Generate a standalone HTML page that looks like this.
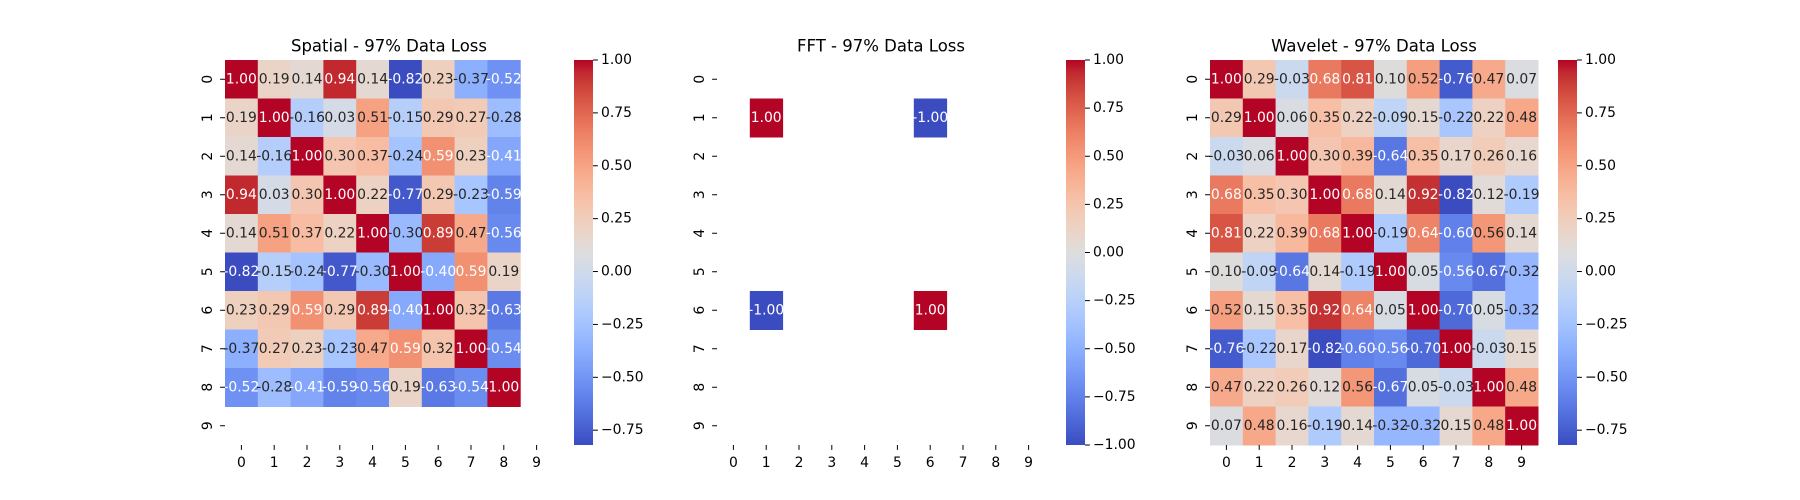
<!DOCTYPE html>
<html><head><meta charset="utf-8">
<style>
html,body{margin:0;padding:0;background:#fff;}
svg{display:block;font-family:"DejaVu Sans","Liberation Sans",sans-serif;}
</style></head>
<body>
<svg id="fig" width="1800" height="500" viewBox="0 0 1800 500" xmlns="http://www.w3.org/2000/svg"></svg>
<script>
const titles = ["Spatial - 97% Data Loss", "FFT - 97% Data Loss", "Wavelet - 97% Data Loss"];
const tickLabels = ["0","1","2","3","4","5","6","7","8","9"];
const N = null;
const spatialValues = [
 [1.00,0.19,0.14,0.94,0.14,-0.82,0.23,-0.37,-0.52,N],
 [0.19,1.00,-0.16,0.03,0.51,-0.15,0.29,0.27,-0.28,N],
 [0.14,-0.16,1.00,0.30,0.37,-0.24,0.59,0.23,-0.41,N],
 [0.94,0.03,0.30,1.00,0.22,-0.77,0.29,-0.23,-0.59,N],
 [0.14,0.51,0.37,0.22,1.00,-0.30,0.89,0.47,-0.56,N],
 [-0.82,-0.15,-0.24,-0.77,-0.30,1.00,-0.40,0.59,0.19,N],
 [0.23,0.29,0.59,0.29,0.89,-0.40,1.00,0.32,-0.63,N],
 [-0.37,0.27,0.23,-0.23,0.47,0.59,0.32,1.00,-0.54,N],
 [-0.52,-0.28,-0.41,-0.59,-0.56,0.19,-0.63,-0.54,1.00,N],
 [N,N,N,N,N,N,N,N,N,N]
];
const fftValues = [
 [N,N,N,N,N,N,N,N,N,N],
 [N,1.00,N,N,N,N,-1.00,N,N,N],
 [N,N,N,N,N,N,N,N,N,N],
 [N,N,N,N,N,N,N,N,N,N],
 [N,N,N,N,N,N,N,N,N,N],
 [N,N,N,N,N,N,N,N,N,N],
 [N,-1.00,N,N,N,N,1.00,N,N,N],
 [N,N,N,N,N,N,N,N,N,N],
 [N,N,N,N,N,N,N,N,N,N],
 [N,N,N,N,N,N,N,N,N,N]
];
const waveletValues = [
 [1.00,0.29,-0.03,0.68,0.81,0.10,0.52,-0.76,0.47,0.07],
 [0.29,1.00,0.06,0.35,0.22,-0.09,0.15,-0.22,0.22,0.48],
 [-0.03,0.06,1.00,0.30,0.39,-0.64,0.35,0.17,0.26,0.16],
 [0.68,0.35,0.30,1.00,0.68,0.14,0.92,-0.82,0.12,-0.19],
 [0.81,0.22,0.39,0.68,1.00,-0.19,0.64,-0.60,0.56,0.14],
 [0.10,-0.09,-0.64,0.14,-0.19,1.00,0.05,-0.56,-0.67,-0.32],
 [0.52,0.15,0.35,0.92,0.64,0.05,1.00,-0.70,0.05,-0.32],
 [-0.76,-0.22,0.17,-0.82,-0.60,-0.56,-0.70,1.00,-0.03,0.15],
 [0.47,0.22,0.26,0.12,0.56,-0.67,0.05,-0.03,1.00,0.48],
 [0.07,0.48,0.16,-0.19,0.14,-0.32,-0.32,0.15,0.48,1.00]
];

const CW=[[59,76,192],[68,90,204],[77,104,215],[87,117,225],[98,130,234],[108,142,241],[119,154,247],[130,165,251],[141,176,254],[152,185,255],[163,194,255],[174,201,253],[184,208,249],[194,213,244],[204,217,238],[213,219,230],[221,221,221],[229,216,209],[236,211,197],[241,204,185],[245,196,173],[247,187,160],[247,177,148],[247,166,135],[244,154,123],[241,141,111],[236,127,99],[229,112,88],[222,96,77],[213,80,66],[203,62,56],[192,40,47],[180,4,38]];
function cmap(t){t=Math.max(0,Math.min(1,t));const p=t*(CW.length-1);const i=Math.min(CW.length-2,Math.floor(p));const f=p-i;
 return CW[i].map((c,k)=>Math.round(c+(CW[i+1][k]-c)*f));}
function rgb(c){return `rgb(${c[0]},${c[1]},${c[2]})`;}
function lum(c){const l=c.map(v=>{v/=255;return v<=0.03928?v/12.92:Math.pow((v+0.055)/1.055,2.4);});return 0.2126*l[0]+0.7152*l[1]+0.0722*l[2];}

const NS="http://www.w3.org/2000/svg";
const svg=document.getElementById('fig');
function el(tag,attrs,parent,text){const e=document.createElementNS(NS,tag);for(const k in attrs)e.setAttribute(k,attrs[k]);if(text!==undefined)e.textContent=text;(parent||svg).appendChild(e);return e;}

const panels=[
 {data:spatialValues,x0:225,w:328,cbx:574,name:'spatial'},
 {data:fftValues,x0:717,w:328,cbx:1066,name:'fft'},
 {data:waveletValues,x0:1210,w:328,cbx:1558,name:'wavelet'}
];
const Y0=60,H=385,CBW=19;
const defs=el('defs',{});

panels.forEach((p,pi)=>{
 const g=el('g',{});
 
 
 const vals=p.data.flat().filter(v=>v!==null);
 const vmin=Math.min(...vals),vmax=Math.max(...vals);
 const nr=p.data.length,nc=p.data[0].length;
 const cw=p.w/nc,ch=H/nr;
 const xs=c=>p.x0+c*cw, ys=r=>Y0+r*ch;
 const norm=v=>(v-vmin)/(vmax-vmin);
 const t=el('text',{x:p.x0+p.w/2,y:47,'text-anchor':'middle','dominant-baseline':'middle','font-size':'16.5',fill:'#000'},g,titles[pi]);
 
 
 for(let r=0;r<nr;r++)for(let c=0;c<nc;c++){
  const v=p.data[r][c]; if(v===null)continue;
  const col=cmap(norm(v));
  const rc=el('rect',{x:xs(c),y:ys(r),width:cw+0.5,height:ch+0.5,fill:rgb(col)},g);
  
  
 }
 for(let r=0;r<nr;r++)for(let c=0;c<nc;c++){
  const v=p.data[r][c]; if(v===null)continue;
  const col=cmap(norm(v));
  const tx=el('text',{x:xs(c)+cw/2,y:ys(r)+ch/2,'text-anchor':'middle','dominant-baseline':'central','font-size':'13.9',fill:lum(col)>0.408?'#262626':'#ffffff'},g,v.toFixed(2));
  
  
 }
 for(let r=0;r<nr;r++){
  const yc=ys(r)+ch/2;
  el('line',{x1:p.x0-4.9,x2:p.x0,y1:yc,y2:yc,stroke:'#000','stroke-width':1},g);
  const lx=p.x0-17;
  const tl=el('text',{x:lx,y:yc,'text-anchor':'middle','dominant-baseline':'central','font-size':'13.9',fill:'#000',transform:`rotate(-90 ${lx} ${yc})`},g,tickLabels[r]);
  
  
 }
 for(let c=0;c<nc;c++){
  const xc=xs(c)+cw/2;
  el('line',{x1:xc,x2:xc,y1:Y0+H,y2:Y0+H+4.9,stroke:'#000','stroke-width':1},g);
  const tl=el('text',{x:xc,y:Y0+H+18,'text-anchor':'middle','dominant-baseline':'central','font-size':'13.9',fill:'#000'},g,tickLabels[c]);
  
  
 }
 const gid='grad'+pi;
 const lg=el('linearGradient',{id:gid,x1:0,y1:1,x2:0,y2:0},defs);
 for(let i=0;i<=32;i++){el('stop',{offset:(i/32),'stop-color':rgb(cmap(i/32))},lg);}
 const cb=el('rect',{x:p.cbx,y:Y0,width:CBW,height:H,fill:`url(#${gid})`},g);
 
 
 const cy=v=>Y0+H-(v-vmin)/(vmax-vmin)*H;
 for(let v=1.0;v>=vmin-1e-9;v-=0.25){
  const vv=Math.round(v*100)/100;
  const y=cy(vv);
  el('line',{x1:p.cbx+CBW,x2:p.cbx+CBW+4.9,y1:y,y2:y,stroke:'#000','stroke-width':1},g);
  const lab=(vv<0?'\u2212':'')+Math.abs(vv).toFixed(2);
  const ct=el('text',{x:p.cbx+CBW+8,y:y,'dominant-baseline':'central','font-size':'13.9',fill:'#000'},g,lab);
  
  
 }
});
</script>
</body></html>
